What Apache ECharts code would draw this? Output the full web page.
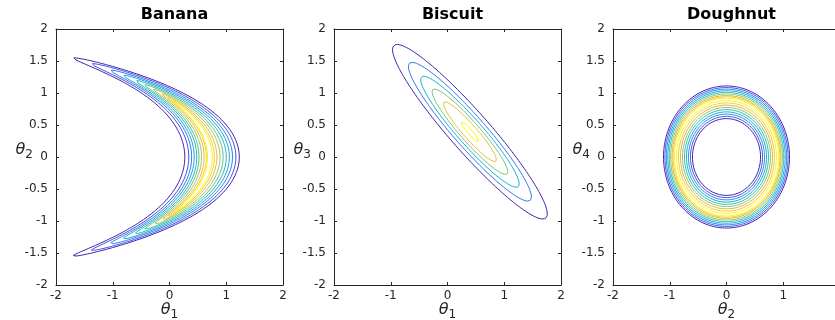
<!DOCTYPE html>
<html>
<head>
<meta charset="utf-8">
<script src="https://cdn.jsdelivr.net/npm/echarts@6/dist/echarts.min.js"></script>
<style>
html,body{margin:0;padding:0;background:#fff;}
#chart{width:835px;height:320px;}
</style>
</head>
<body>
<div id="chart"></div>
<script>
// ---------- data ----------
const panelTitles = ['Banana', 'Biscuit', 'Doughnut'];
const xAxisSubscripts = ['1', '1', '2'];
const yAxisSubscripts = ['2', '3', '4'];
const axisRange = [-2, 2];
const xTickStep = 1;
const yTickStep = 0.5;

// Banana: ridge x = r0 - r1*y^2 - r2*y^4 ; per contour level (outer -> inner)
const bananaRidge = [0.71, 0.78, 0.09];
const bananaInnerHalfWidth = [0.44, 0.37, 0.32, 0.275, 0.23, 0.19, 0.145, 0.10, 0.06, 0.04];
const bananaOuterHalfWidth = [0.52, 0.46, 0.40, 0.345, 0.29, 0.235, 0.18, 0.125, 0.08, 0.045];
const bananaTipHeight = [1.55, 1.46, 1.36, 1.28, 1.20, 1.13, 1.06, 0.99, 0.93, 0.88];

// Biscuit: tilted ellipses (major axis along -45 deg), outer -> inner
const biscuitCenter = [0.395, 0.395];
const biscuitSemiMajor = [1.90, 1.51, 1.21, 0.93, 0.65, 0.21];
const biscuitSemiMinor = [0.33, 0.263, 0.21, 0.162, 0.113, 0.037];

// Doughnut: ring radii per level, outer level -> inner level
const doughnutInnerRadius = [0.60, 0.635, 0.67, 0.705, 0.74, 0.775, 0.81, 0.845, 0.88];
const doughnutOuterRadius = [1.11, 1.085, 1.06, 1.035, 1.01, 0.985, 0.96, 0.94, 0.92];

// ---------- colormap (parula-like) ----------
const parulaStops = ['#3e26a8', '#4454ef', '#2c8bf0', '#12afd8', '#2fc0a6', '#8cc471', '#d9ba38', '#fcc63a', '#f9fb0e'];
function hexToRgb(h){return [parseInt(h.substr(1,2),16),parseInt(h.substr(3,2),16),parseInt(h.substr(5,2),16)];}
function parula(t){
  const n = parulaStops.length - 1;
  const p = Math.max(0, Math.min(1, t)) * n;
  const i = Math.min(n - 1, Math.floor(p));
  const f = p - i;
  const a = hexToRgb(parulaStops[i]), b = hexToRgb(parulaStops[i + 1]);
  const c = a.map((v, k) => Math.round(v + (b[k] - v) * f));
  return 'rgb(' + c.join(',') + ')';
}

// ---------- curve builders ----------
const STEPS = 360;
function bananaCurve(k){
  const pts = [];
  for (let s = 0; s <= STEPS; s++) {
    const phi = 2 * Math.PI * s / STEPS;
    const y = bananaTipHeight[k] * Math.sin(phi);
    const c = Math.cos(phi);
    const ridge = bananaRidge[0] - bananaRidge[1] * y * y - bananaRidge[2] * y * y * y * y;
    const w = c >= 0 ? bananaOuterHalfWidth[k] : bananaInnerHalfWidth[k];
    pts.push([ridge + w * c, y]);
  }
  return pts;
}
function biscuitCurve(k){
  const pts = [];
  const ca = Math.cos(-Math.PI / 4), sa = Math.sin(-Math.PI / 4);
  for (let s = 0; s <= STEPS; s++) {
    const phi = 2 * Math.PI * s / STEPS;
    const u = biscuitSemiMajor[k] * Math.cos(phi);
    const v = biscuitSemiMinor[k] * Math.sin(phi);
    pts.push([biscuitCenter[0] + u * ca - v * sa, biscuitCenter[1] + u * sa + v * ca]);
  }
  return pts;
}
function circle(r){
  const pts = [];
  for (let s = 0; s <= STEPS; s++) {
    const phi = 2 * Math.PI * s / STEPS;
    pts.push([r * Math.cos(phi), r * Math.sin(phi)]);
  }
  return pts;
}

// ---------- layout ----------
const gridBoxes = [
  {left: 56, top: 29, width: 227, height: 256},
  {left: 334, top: 29, width: 227, height: 256},
  {left: 613, top: 29, width: 227, height: 256}
];
const axisColor = '#262626';
const fontFam = 'DejaVu Sans';

const grids = [], xAxes = [], yAxes = [], titles = [], series = [];
gridBoxes.forEach((g, i) => {
  grids.push(Object.assign({containLabel: false, outerBoundsMode: 'none'}, g));
  titles.push({
    text: panelTitles[i], left: g.left + g.width / 2, top: 2, textAlign: 'center',
    textStyle: {fontFamily: fontFam, fontWeight: 'bold', fontSize: 16, color: '#000'}
  });
  const nameRich = {
    t: {fontFamily: fontFam, fontStyle: 'italic', fontSize: 16, color: axisColor, lineHeight: 22},
    s: {fontFamily: fontFam, fontSize: 12, color: axisColor, lineHeight: 22, padding: [9, 0, 0, 0]}
  };
  const common = {
    type: 'value', min: axisRange[0], max: axisRange[1], gridIndex: i,
    splitLine: {show: false},
    axisLine: {show: true, onZero: false, lineStyle: {color: axisColor, width: 1}},
    axisTick: {show: true, inside: true, length: 3, lineStyle: {color: axisColor}}
  };
  xAxes.push(Object.assign({}, common, {
    position: 'bottom', interval: xTickStep,
    axisLabel: {fontFamily: fontFam, fontSize: 12, color: axisColor, margin: 5},
    name: '{t|θ}{s|' + xAxisSubscripts[i] + '}', nameLocation: 'middle', nameGap: 14,
    nameMoveOverlap: false,
    nameTextStyle: {rich: nameRich, verticalAlign: 'top', align: 'center'}
  }));
  xAxes.push(Object.assign({}, common, {
    position: 'top', interval: xTickStep, axisLabel: {show: false}
  }));
  yAxes.push(Object.assign({}, common, {
    position: 'left', interval: yTickStep,
    axisLabel: {fontFamily: fontFam, fontSize: 12, color: axisColor, margin: 8},
    name: '{t|θ}{s|' + yAxisSubscripts[i] + '}', nameLocation: 'middle', nameGap: 23, nameRotate: 0,
    nameMoveOverlap: false,
    nameTextStyle: {rich: nameRich, align: 'right', verticalAlign: 'middle', padding: [0, 0, 14, 0]}
  }));
  yAxes.push(Object.assign({}, common, {
    position: 'right', interval: yTickStep, axisLabel: {show: false}
  }));
});

function addLine(panel, pts, color){
  series.push({
    type: 'line', xAxisIndex: panel * 2, yAxisIndex: panel * 2, data: pts,
    showSymbol: false, symbol: 'none', smooth: false, clip: true, silent: true,
    lineStyle: {color: color, width: 1}
  });
}
bananaTipHeight.forEach((_, k) => addLine(0, bananaCurve(k), parula(k / (bananaTipHeight.length - 1))));
biscuitSemiMajor.forEach((_, k) => addLine(1, biscuitCurve(k), parula(k / (biscuitSemiMajor.length - 1))));
doughnutInnerRadius.forEach((r, k) => {
  const col = parula(k / (doughnutInnerRadius.length - 1));
  addLine(2, circle(r), col);
  addLine(2, circle(doughnutOuterRadius[k]), col);
});

const chart = echarts.init(document.getElementById('chart'), null, {renderer: 'canvas'});
chart.setOption({
  animation: false,
  backgroundColor: '#ffffff',
  title: titles,
  grid: grids,
  xAxis: xAxes,
  yAxis: yAxes,
  series: series
});
</script>
</body>
</html>
